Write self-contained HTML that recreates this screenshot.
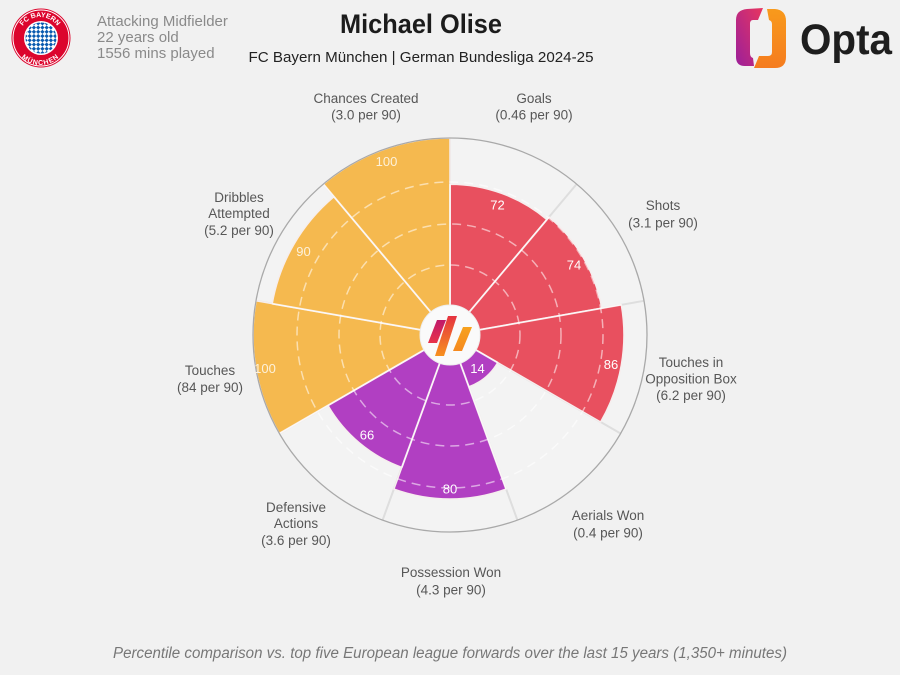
<!DOCTYPE html>
<html>
<head>
<meta charset="utf-8">
<style>
  html, body { margin: 0; padding: 0; background: #f1f1f1; }
  svg { display: block; }
  text { font-family: "Liberation Sans", "DejaVu Sans", sans-serif; }
</style>
</head>
<body>
<svg width="900" height="675" viewBox="0 0 900 675" xmlns="http://www.w3.org/2000/svg">
  <defs>
    <linearGradient id="gMag" x1="0" y1="1" x2="1" y2="0">
      <stop offset="0" stop-color="#9c1f9a"/>
      <stop offset="1" stop-color="#e8365f"/>
    </linearGradient>
    <linearGradient id="gOr" x1="0" y1="0" x2="0" y2="1">
      <stop offset="0" stop-color="#f89a1c"/>
      <stop offset="1" stop-color="#f57c1f"/>
    </linearGradient>
    <linearGradient id="gBar1" x1="0" y1="0" x2="0" y2="1">
      <stop offset="0" stop-color="#c0196b"/>
      <stop offset="1" stop-color="#e8334a"/>
    </linearGradient>
    <linearGradient id="gBar2" x1="0" y1="0" x2="0" y2="1">
      <stop offset="0" stop-color="#e53340"/>
      <stop offset="1" stop-color="#f7911f"/>
    </linearGradient>
    <linearGradient id="gBar3" x1="0" y1="0" x2="0" y2="1">
      <stop offset="0" stop-color="#f7a21e"/>
      <stop offset="1" stop-color="#f58a1f"/>
    </linearGradient>
    <pattern id="diam" width="6" height="6" patternUnits="userSpaceOnUse" patternTransform="rotate(45)">
      <rect width="6" height="6" fill="#ffffff"/>
      <rect width="3" height="3" fill="#0a5bb0"/>
      <rect x="3" y="3" width="3" height="3" fill="#0a5bb0"/>
    </pattern>
    <path id="ringTop" d="M 19 38 A 21 21 0 0 1 61 38"/>
    <path id="ringBot" d="M 17 38 A 23 23 0 0 0 63 38"/>
  </defs>

  <!-- Header: Bayern logo -->
  <circle cx="41" cy="38" r="29.5" fill="#dc052d"/>
  <circle cx="41" cy="38" r="28" fill="none" stroke="#ffffff" stroke-width="1"/>
  <circle cx="41" cy="38" r="17" fill="#ffffff"/>
  <circle cx="41" cy="38" r="15.5" fill="url(#diam)"/>
  <text font-size="7" font-weight="bold" fill="#ffffff"><textPath href="#ringTop" startOffset="50%" text-anchor="middle">FC BAYERN</textPath></text>
  <text font-size="7" font-weight="bold" fill="#ffffff"><textPath href="#ringBot" startOffset="50%" text-anchor="middle" dominant-baseline="hanging">MÜNCHEN</textPath></text>

  <!-- Header left text -->
  <text x="97" y="26" font-size="15" fill="#8a8a8a">Attacking Midfielder</text>
  <text x="97" y="42" font-size="15" fill="#8a8a8a">22 years old</text>
  <text x="97" y="58" font-size="15" fill="#8a8a8a">1556 mins played</text>

  <!-- Title -->
  <text x="421" y="33" font-size="27" font-weight="bold" fill="#1c1c1c" text-anchor="middle" textLength="162" lengthAdjust="spacingAndGlyphs">Michael Olise</text>
  <text x="421" y="62" font-size="15" fill="#222222" text-anchor="middle" textLength="345" lengthAdjust="spacingAndGlyphs">FC Bayern München | German Bundesliga 2024-25</text>

  <!-- Opta logo -->
  <path d="M 747 9 L 763 8 L 758 20 L 753 20 Q 750 20 750 24 L 750 53 Q 750 57 753 58 L 754 66 L 745 66 Q 736 66 736 57 L 736 20 Q 736 10 747 9 Z" fill="url(#gMag)"/>
  <path d="M 767 9 L 775 9 Q 786 10 786 21 L 786 57 Q 786 68 775 68 L 754 68 L 759 56 L 768 56 Q 772 56 772 52 L 772 24 Q 772 21 769 20 Z" fill="url(#gOr)"/>
  <text x="800" y="54" font-size="43" font-weight="bold" fill="#1e1e1e" textLength="92" lengthAdjust="spacingAndGlyphs">Opta</text>

  <!-- Polar chart -->
  <circle cx="450" cy="335" r="197" fill="#f3f3f3"/>

  <!-- background radial lines -->
  <g stroke="#dedede" stroke-width="2">
    <line x1="450" y1="335" x2="450" y2="138"/>
    <line x1="450" y1="335" x2="576.6" y2="184.1"/>
    <line x1="450" y1="335" x2="644.0" y2="300.8"/>
    <line x1="450" y1="335" x2="620.6" y2="433.5"/>
    <line x1="450" y1="335" x2="517.4" y2="520.1"/>
    <line x1="450" y1="335" x2="382.6" y2="520.1"/>
    <line x1="450" y1="335" x2="279.4" y2="433.5"/>
    <line x1="450" y1="335" x2="256.0" y2="300.8"/>
    <line x1="450" y1="335" x2="323.4" y2="184.1"/>
  </g>

  <!-- slices -->
  <g stroke="#f6eeee" stroke-width="1.5" stroke-linejoin="round">
    <path d="M 450 335 L 450 184.2 A 150.8 150.8 0 0 1 546.9 219.5 Z" fill="#e8505f"/>
    <path d="M 450 335 L 549.1 217.0 A 154.1 154.1 0 0 1 601.8 308.2 Z" fill="#e8505f"/>
    <path d="M 450 335 L 621.3 304.8 A 173.9 173.9 0 0 1 600.6 422.0 Z" fill="#e8505f"/>
    <path d="M 450 335 L 497.7 362.6 A 55.1 55.1 0 0 1 468.8 386.8 Z" fill="#b13fc2"/>
    <path d="M 450 335 L 506.1 489.1 A 164 164 0 0 1 393.9 489.1 Z" fill="#b13fc2"/>
    <path d="M 450 335 L 401.8 467.4 A 140.9 140.9 0 0 1 328.0 405.5 Z" fill="#b13fc2"/>
    <path d="M 450 335 L 279.4 433.5 A 197 197 0 0 1 256.0 300.8 Z" fill="#f5b94f"/>
    <path d="M 450 335 L 272.2 303.7 A 180.5 180.5 0 0 1 334.0 196.7 Z" fill="#f5b94f"/>
    <path d="M 450 335 L 323.4 184.1 A 197 197 0 0 1 450 138 Z" fill="#f5b94f"/>
  </g>

  <!-- dashed rings -->
  <g fill="none" stroke="rgba(255,255,255,0.55)" stroke-width="1.5" stroke-dasharray="9 6">
    <circle cx="450" cy="335" r="70"/>
    <circle cx="450" cy="335" r="111"/>
    <circle cx="450" cy="335" r="153"/>
  </g>

  <!-- radial lines over slices -->
  <g stroke="rgba(255,255,255,0.5)" stroke-width="2">
    <line x1="450" y1="335" x2="450" y2="184"/>
    <line x1="450" y1="335" x2="549.1" y2="217.0"/>
    <line x1="450" y1="335" x2="621.3" y2="304.8"/>
    <line x1="450" y1="335" x2="497.7" y2="362.6"/>
    <line x1="450" y1="335" x2="506.1" y2="489.1"/>
    <line x1="450" y1="335" x2="401.8" y2="467.4"/>
    <line x1="450" y1="335" x2="279.4" y2="433.5"/>
    <line x1="450" y1="335" x2="272.2" y2="303.7"/>
    <line x1="450" y1="335" x2="323.4" y2="184.1"/>
  </g>

  <!-- outer circle -->
  <circle cx="450" cy="335" r="197" fill="none" stroke="#a9a9a9" stroke-width="1.3"/>

  <!-- centre logo -->
  <circle cx="450" cy="335" r="30" fill="#fafafa" stroke="#eeeeee" stroke-width="1"/>
  <polygon points="437,320 446,320 437,343 428,343" fill="url(#gBar1)"/>
  <polygon points="448,316 457,316 444,356 435,356" fill="url(#gBar2)"/>
  <polygon points="463,327 472,327 462,351 453,351" fill="url(#gBar3)"/>

  <!-- value labels -->
  <g font-size="13" text-anchor="middle" dominant-baseline="central">
    <text x="497.5" y="205" fill="#ffffff">72</text>
    <text x="574" y="265" fill="#ffffff">74</text>
    <text x="611" y="364.5" fill="#ffffff">86</text>
    <text x="477.5" y="368.5" fill="#ffffff">14</text>
    <text x="450" y="489" fill="#ffffff">80</text>
    <text x="367" y="435" fill="#ffffff">66</text>
    <text x="265" y="368.5" fill="#fdf1da">100</text>
    <text x="303.5" y="251.5" fill="#fdf1da">90</text>
    <text x="386.5" y="161.5" fill="#fdf1da">100</text>
  </g>

  <!-- outer labels -->
  <g font-size="13.5" fill="#575757" text-anchor="middle">
    <text x="366" y="103">Chances Created</text>
    <text x="366" y="119.5">(3.0 per 90)</text>

    <text x="534" y="103">Goals</text>
    <text x="534" y="119.5">(0.46 per 90)</text>

    <text x="663" y="210">Shots</text>
    <text x="663" y="227.5">(3.1 per 90)</text>

    <text x="691" y="367">Touches in</text>
    <text x="691" y="383.5">Opposition Box</text>
    <text x="691" y="400">(6.2 per 90)</text>

    <text x="608" y="520">Aerials Won</text>
    <text x="608" y="537.5">(0.4 per 90)</text>

    <text x="451" y="577">Possession Won</text>
    <text x="451" y="594.5">(4.3 per 90)</text>

    <text x="296" y="512">Defensive</text>
    <text x="296" y="528">Actions</text>
    <text x="296" y="545">(3.6 per 90)</text>

    <text x="210" y="375">Touches</text>
    <text x="210" y="392">(84 per 90)</text>

    <text x="239" y="202">Dribbles</text>
    <text x="239" y="218">Attempted</text>
    <text x="239" y="235">(5.2 per 90)</text>
  </g>

  <!-- footer -->
  <text x="450" y="658" font-size="15.5" font-style="italic" fill="#777777" text-anchor="middle" textLength="674" lengthAdjust="spacingAndGlyphs">Percentile comparison vs. top five European league forwards over the last 15 years (1,350+ minutes)</text>
</svg>
</body>
</html>
